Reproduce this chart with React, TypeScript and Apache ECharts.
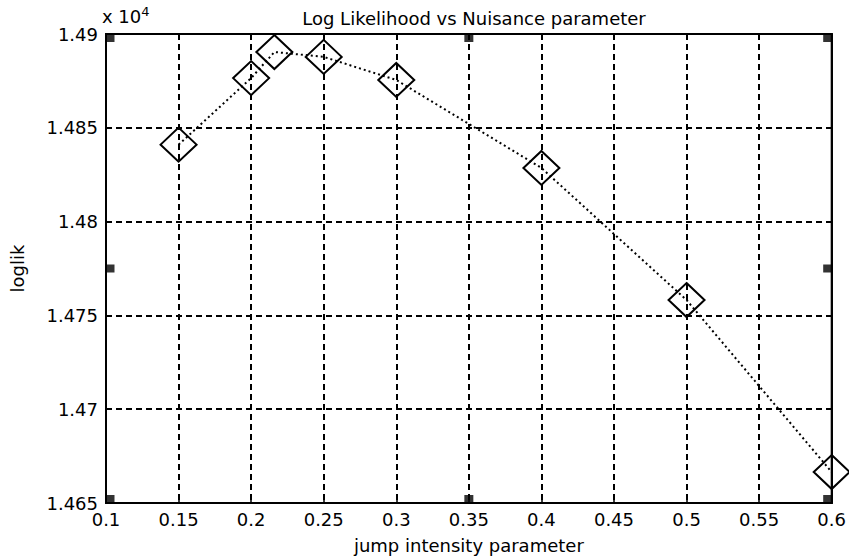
import React, { useEffect, useRef } from "react";
import * as echarts from "echarts";

const xValues = [0.15, 0.2, 0.216, 0.25, 0.3, 0.4, 0.5, 0.6];
const logLik = [1.4841, 1.48765, 1.48904, 1.48878, 1.48755, 1.48286, 1.47582, 1.46665];
const cornerX = [0.1, 0.1, 0.6, 0.6, 0.35, 0.35, 0.1, 0.6];
const cornerY = [1.49, 1.465, 1.49, 1.465, 1.49, 1.465, 1.4775, 1.4775];

const FONT = "DejaVu Sans";
const FS = 18;
const fmt = (v: number) => String(parseFloat(Number(v).toFixed(4)));

export default function App() {
  const ref = useRef<HTMLDivElement>(null);
  useEffect(() => {
    if (!ref.current) return;
    const chart = echarts.init(ref.current, null, { renderer: "svg" });
    const offsets = cornerX.map((x, i) => {
      const y = cornerY[i];
      const dx = x === 0.1 ? 4 : x === 0.6 ? -4 : 0;
      const dy = y === 1.49 ? 4 : y === 1.465 ? -4 : 0;
      return [dx, dy];
    });
    chart.setOption({
      animation: false,
      backgroundColor: "#ffffff",
      title: {
        text: "Log Likelihood vs Nuisance parameter",
        left: 469,
        top: 4,
        textAlign: "center",
        textStyle: { fontFamily: FONT, fontSize: FS, fontWeight: "normal", color: "#000" },
      },
      graphic: [
        {
          type: "text",
          left: 102,
          top: 5,
          style: {
            text: "x 10{sup|4}",
            fontFamily: FONT,
            fontSize: FS,
            fill: "#000",
            rich: {
              sup: { fontFamily: FONT, fontSize: 13, verticalAlign: "top", padding: [0, 0, 10, 0] },
            },
          },
        },
      ],
      grid: { left: 102, right: 12, top: 34, bottom: 56, show: true, borderColor: "#000", borderWidth: 2 },
      xAxis: [
        {
          type: "value",
          min: 0.1,
          max: 0.6,
          interval: 0.05,
          name: "jump intensity parameter",
          nameLocation: "middle",
          nameGap: 33,
          nameTextStyle: { fontFamily: FONT, fontSize: FS, color: "#000" },
          axisLine: { show: true, lineStyle: { color: "#000", width: 2 } },
          axisTick: { show: true, inside: true, length: 5, lineStyle: { color: "#000", width: 1.5 } },
          axisLabel: { formatter: fmt, fontFamily: FONT, fontSize: FS, color: "#000", margin: 7 },
          splitLine: { show: true, lineStyle: { color: "#000", width: 2, type: [6, 4] } },
        },
        {
          type: "value",
          position: "top",
          min: 0.1,
          max: 0.6,
          interval: 0.05,
          axisLine: { show: true, lineStyle: { color: "#000", width: 2 } },
          axisTick: { show: true, inside: true, length: 5, lineStyle: { color: "#000", width: 1.5 } },
          axisLabel: { show: false },
          splitLine: { show: false },
        },
      ],
      yAxis: [
        {
          type: "value",
          min: 1.465,
          max: 1.49,
          interval: 0.005,
          name: "loglik",
          nameLocation: "middle",
          nameGap: 80,
          nameTextStyle: { fontFamily: FONT, fontSize: FS, color: "#000" },
          axisLine: { show: true, lineStyle: { color: "#000", width: 2 } },
          axisTick: { show: true, inside: true, length: 5, lineStyle: { color: "#000", width: 1.5 } },
          axisLabel: { formatter: fmt, fontFamily: FONT, fontSize: FS, color: "#000", margin: 8 },
          splitLine: { show: true, lineStyle: { color: "#000", width: 2, type: [6, 4] } },
        },
        {
          type: "value",
          position: "right",
          min: 1.465,
          max: 1.49,
          interval: 0.005,
          axisLine: { show: true, lineStyle: { color: "#000", width: 2 } },
          axisTick: { show: true, inside: true, length: 5, lineStyle: { color: "#000", width: 1.5 } },
          axisLabel: { show: false },
          splitLine: { show: false },
        },
      ],
      series: [
        {
          type: "line",
          data: xValues.map((x, i) => [x, logLik[i]]),
          symbol: "diamond",
          symbolSize: [36, 34],
          showAllSymbol: true,
          clip: false,
          lineStyle: { color: "#000", width: 2, type: [2, 3] },
          itemStyle: { color: "transparent", borderColor: "#000", borderWidth: 2, opacity: 1 },
          z: 5,
        },
        {
          type: "scatter",
          data: cornerX.map((x, i) => ({ value: [x, cornerY[i]], symbolOffset: offsets[i] })),
          symbol: "rect",
          symbolSize: [9, 8],
          clip: false,
          itemStyle: { color: "#000" },
          silent: true,
          z: 6,
        },
      ],
    });
    return () => chart.dispose();
  }, []);
  return (
    <div
      ref={ref}
      style={{ position: "fixed", left: 0, top: 0, width: 849, height: 559, background: "#fff" }}
    />
  );
}
